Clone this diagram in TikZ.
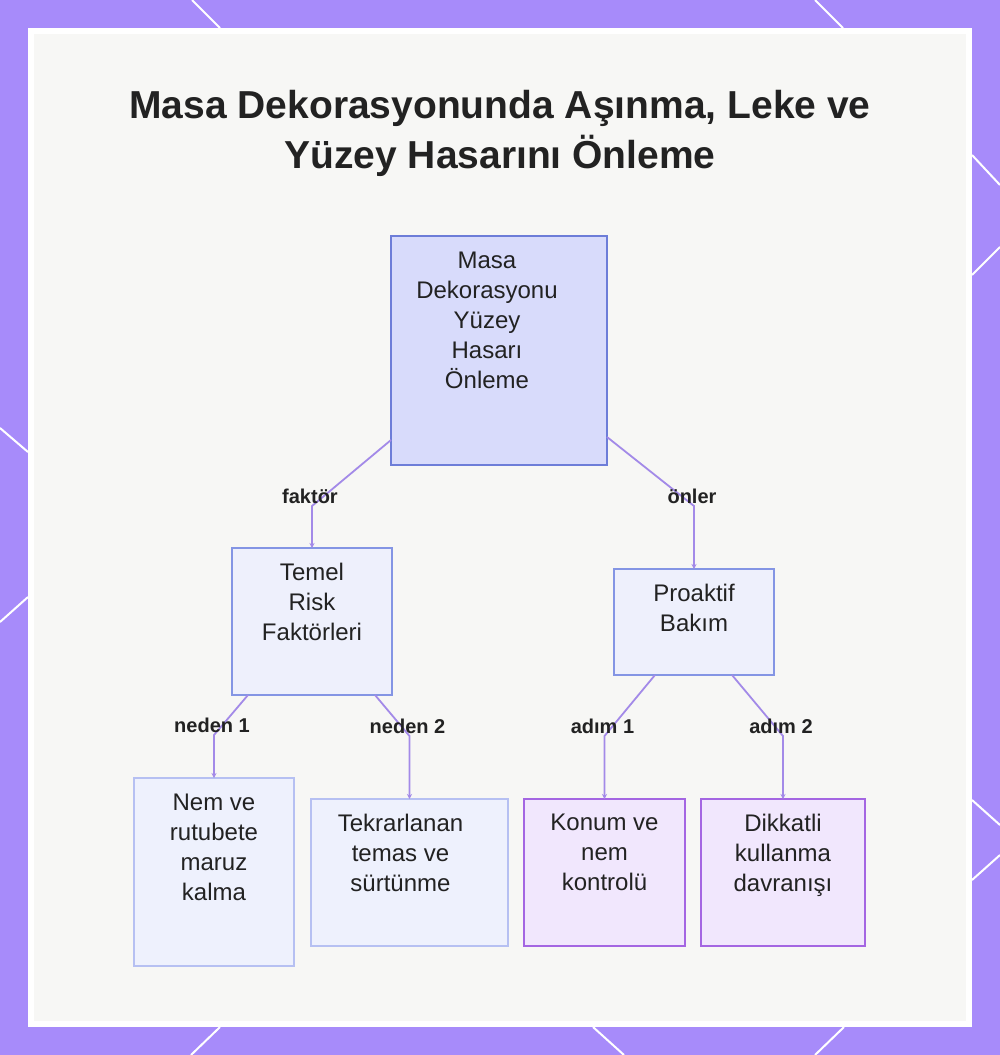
\documentclass[tikz,border=0pt]{standalone}
\usepackage{fontspec}
\setmainfont{Liberation Sans}
\usetikzlibrary{positioning,arrows.meta}
\definecolor{framepurple}{HTML}{A78BFA}
\definecolor{panelgray}{HTML}{F7F7F5}
\definecolor{ink}{HTML}{222222}
\definecolor{linkpurple}{HTML}{A38AE8}
\definecolor{rootfill}{HTML}{D8DBFB}
\definecolor{rootline}{HTML}{6D7DD8}
\definecolor{midfill}{HTML}{EEF0FC}
\definecolor{midline}{HTML}{8495E4}
\definecolor{leaffill}{HTML}{EEF1FD}
\definecolor{leafline}{HTML}{B6C0F2}
\definecolor{actfill}{HTML}{F1E7FD}
\definecolor{actline}{HTML}{A466E2}

\begin{document}
\begin{tikzpicture}[x=1pt, y=-1pt,
    box/.style={rectangle, draw, line width=1.6pt,
                inner sep=0pt, outer sep=0pt, anchor=center},
    rootbox/.style={box, fill=rootfill, draw=rootline},
    midbox/.style={box, fill=midfill, draw=midline},
    leafbox/.style={box, fill=leaffill, draw=leafline},
    actbox/.style={box, fill=actfill, draw=actline},
    txt/.style={inner sep=0pt, align=center, text=ink,
                font=\fontsize{24}{30}\selectfont},
    lbl/.style={anchor=base, xshift=-2pt, yshift=3pt, inner sep=0pt, text=ink,
                font=\bfseries\fontsize{20}{24}\selectfont},
    link/.style={draw=linkpurple, line width=1.8pt,
                 -{Stealth[length=5pt,width=5pt]}},
    deco/.style={draw=white, line width=2pt},
    ]
\useasboundingbox (0,0) rectangle (1000,1055);

% frame
\fill[framepurple] (0,0) rectangle (1000,1055);
\draw[deco] (192,0) -- (220,28);
\draw[deco] (815,0) -- (843,28);
\draw[deco] (972,155) -- (1000,185);
\draw[deco] (972,275) -- (1000,247);
\draw[deco] (972,800) -- (1000,825);
\draw[deco] (972,880) -- (1000,855);
\draw[deco] (0,428) -- (28,452);
\draw[deco] (28,597) -- (0,622);
\draw[deco] (220,1027) -- (191,1055);
\draw[deco] (593,1027) -- (624,1055);
\draw[deco] (844,1027) -- (815,1055);
\fill[white] (28,28) rectangle (972,1027);
\fill[panelgray] (34,34) rectangle (966,1021);

\node[anchor=north, inner sep=0pt, align=center, text=ink,
      font=\bfseries\fontsize{39}{50}\selectfont] (title) at (500,90)
    {Masa Dekorasyonunda Aşınma, Leke ve\\Yüzey Hasarını Önleme};

% boxes
\node[rootbox, minimum width=216pt, minimum height=229pt] (root)   at (499,350.5) {};
\node[midbox,  minimum width=160pt, minimum height=147pt] (risk)   at (312,621.5) {};
\node[midbox,  minimum width=160pt, minimum height=106pt] (bakim)  at (694,622) {};
\node[leafbox, minimum width=160pt, minimum height=188pt] (nem)    at (214,872) {};
\node[leafbox, minimum width=197pt, minimum height=147pt] (temas)  at (409.5,872.5) {};
\node[actbox,  minimum width=161pt, minimum height=147pt] (konum)  at (604.5,872.5) {};
\node[actbox,  minimum width=164pt, minimum height=147pt] (dikkat) at (783,872.5) {};

\node[txt, below=16pt of root.north, xshift=-12pt] (root-t) {Masa\\Dekorasyonu\\Yüzey\\Hasarı\\Önleme};
\node[txt, below=15pt of risk.north]   (risk-t)   {Temel\\Risk\\Faktörleri};
\node[txt, below=15pt of bakim.north]  (bakim-t)  {Proaktif\\Bakım};
\node[txt, below=16pt of nem.north]    (nem-t)    {Nem ve\\rutubete\\maruz\\kalma};
\node[txt, below=15pt of temas.north, xshift=-9pt] (temas-t) {Tekrarlanan\\temas ve\\sürtünme};
\node[txt, below=15pt of konum.north]  (konum-t)  {Konum ve\\nem\\kontrolü};
\node[txt, below=15pt of dikkat.north] (dikkat-t) {Dikkatli\\kullanma\\davranışı};

% connectors
\draw[link] ([yshift=25pt]root.south west) -- ([yshift=42pt]risk.north) node[lbl] {faktör} -- (risk.north);
\draw[link] ([yshift=28pt]root.south east) -- ([yshift=63pt]bakim.north) node[lbl] {önler} -- (bakim.north);
\draw[link] ([xshift=16pt]risk.south west) -- ([yshift=43pt]nem.north) node[lbl] {neden 1} -- (nem.north);
\draw[link] ([xshift=-17pt]risk.south east) -- ([yshift=63pt]temas.north) node[lbl] {neden 2} -- (temas.north);
\draw[link] ([xshift=41pt]bakim.south west) -- ([yshift=63pt]konum.north) node[lbl] {adım 1} -- (konum.north);
\draw[link] ([xshift=-42pt]bakim.south east) -- ([yshift=63pt]dikkat.north) node[lbl] {adım 2} -- (dikkat.north);
\end{tikzpicture}
\end{document}
